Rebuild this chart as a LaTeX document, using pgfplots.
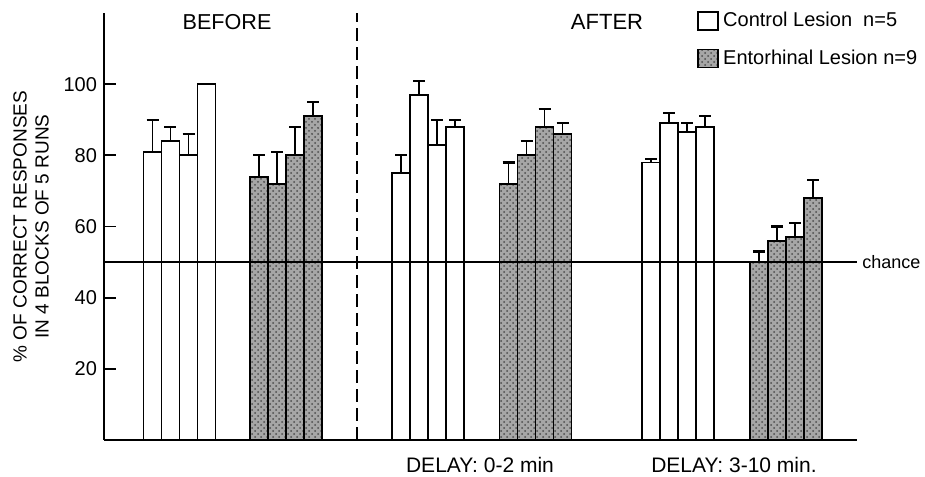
\documentclass[border=0pt]{standalone}
\usepackage{fontspec}
\setmainfont{Liberation Sans}
\usepackage{pgfplots}
\usepackage{pgfplotstable}
\pgfplotsset{compat=1.18}
\usetikzlibrary{patterns}

% x = bar centre (in px of the reference), y = mean, e = upper error
\pgfplotstableread{
x y e
152.5 81 9
170.5 84 4
188.5 80 6
206.5 100 0
401 75 5
419 97 4
437 83 7
455 88 2
651 78 1
669 89 3
687 86.5 2.5
705 88 3
}\control
\pgfplotstableread{
x y e
259 74 6
277 72 9
295 80 8
313 91 4
508.5 72 6
526.5 80 4
544.5 88 5
562.5 86 3
759 50 3
777 56 4
795 57 4
813 68 5
}\entorhinal

\begin{document}
\begin{tikzpicture}
\begin{axis}[
  scale only axis, width=376.5pt, height=213.5pt,
  xmin=104, xmax=857, ymin=0, ymax=120,
  axis x line=bottom, axis y line=left,
  axis line style={-, line width=0.9pt},
  xtick=\empty, ytick={20,40,60,80,100},
  tick align=inside, major tick length=6pt,
  tick style={line width=0.9pt, black},
  /pgf/number format/assume math mode=true,
  yticklabel style={font=\fontsize{10}{12}\selectfont},
  ylabel={\% OF CORRECT RESPONSES\\IN 4 BLOCKS OF 5 RUNS},
  ylabel style={align=center, font=\fontsize{9.5}{11}\selectfont,
    at={(axis description cs:-0.064,0.5)}, anchor=south},
  clip=false,
  ybar, bar width=18, bar shift=0pt,
  legend style={draw=none, fill=none, at={(axis description cs:0.7875,1.012)},
    anchor=north west, inner sep=0pt, font=\fontsize{10}{12}\selectfont,
    row sep=6pt},
  legend cell align=left,
  legend image code/.code={\draw[#1, line width=0.9pt] (0pt,-4.5pt) rectangle (10pt,4.5pt);},
]
\addplot[draw=black, line width=0.9pt, fill=white,
  error bars/.cd, y dir=plus, y explicit,
  error bar style={line width=0.9pt, black},
  error mark options={rotate=90, line width=1.1pt, mark size=3pt, black}]
  table[x=x, y=y, y error=e]{\control};
\addlegendentry{Control Lesion\ \ n=5}
\addplot[draw=black, line width=0.9pt, fill=black!35,
  postaction={pattern=crosshatch dots, pattern color=black!70},
  error bars/.cd, y dir=plus, y explicit,
  error bar style={line width=0.9pt, black},
  error mark options={rotate=90, line width=1.1pt, mark size=3pt, black}]
  table[x=x, y=y, y error=e]{\entorhinal};
\addlegendentry{Entorhinal Lesion n=9}

\draw[line width=0.8pt] (axis cs:104,50) -- (axis cs:857,50);
\node[anchor=west, font=\fontsize{9}{11}\selectfont, inner sep=0pt] at (axis cs:862,50) {chance};
\draw[line width=0.9pt, dash pattern=on 6.5pt off 3pt] (axis cs:357,0) -- (axis cs:357,120);
\node[font=\fontsize{10.8}{13}\selectfont] at (axis cs:227,117.5) {BEFORE};
\node[font=\fontsize{11}{13}\selectfont] at (axis cs:607,117.5) {AFTER};
\node[font=\fontsize{10.5}{12}\selectfont] at (axis cs:480,-7) {DELAY:\ 0-2 min};
\node[font=\fontsize{10.5}{12}\selectfont] at (axis cs:734,-7) {DELAY:\ 3-10 min.};
\end{axis}
\pgfresetboundingbox
\path[use as bounding box] (-52pt,-18pt) rectangle (410.5pt,220pt);
\end{tikzpicture}
\end{document}
